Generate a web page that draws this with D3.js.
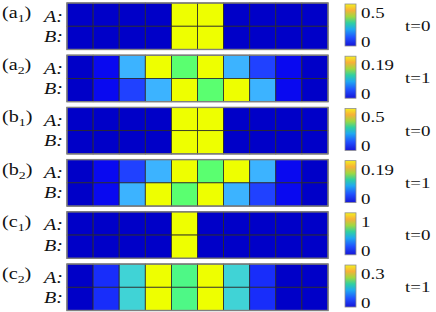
<!DOCTYPE html>
<html>
<head>
<meta charset="utf-8">
<script src="https://cdn.jsdelivr.net/npm/d3@7"></script>
<style>
  body { margin: 0; background: #fff; }
</style>
</head>
<body>
<svg></svg>
<script>
var width = 436;
var height = 312;

// data
var sites = [1, 2, 3, 4, 5, 6, 7, 8, 9, 10];
var rows = ["A", "B"];
var panelIds = ["a1", "a2", "b1", "b2", "c1", "c2"];
var panelLetters = ["a", "a", "b", "b", "c", "c"];
var panelSubs = ["1", "2", "1", "2", "1", "2"];
var times = ["t=0", "t=1", "t=0", "t=1", "t=0", "t=1"];
var maxTicks = ["0.5", "0.19", "0.5", "0.19", "1", "0.3"];
var maxValues = [0.5, 0.19, 0.5, 0.19, 1, 0.3];

var a1A = [0, 0, 0, 0, 0.5, 0.5, 0, 0, 0, 0];
var a1B = [0, 0, 0, 0, 0.5, 0.5, 0, 0, 0, 0];
var a2A = [0, 0.008, 0.085, 0.19, 0.135, 0.19, 0.085, 0.025, 0.008, 0];
var a2B = [0, 0.008, 0.025, 0.085, 0.19, 0.135, 0.19, 0.085, 0.008, 0];
var b1A = [0, 0, 0, 0, 0.5, 0.5, 0, 0, 0, 0];
var b1B = [0, 0, 0, 0, 0.5, 0.5, 0, 0, 0, 0];
var b2A = [0, 0.008, 0.025, 0.085, 0.19, 0.135, 0.19, 0.085, 0.008, 0];
var b2B = [0, 0.008, 0.085, 0.19, 0.135, 0.19, 0.085, 0.025, 0.008, 0];
var c1A = [0, 0, 0, 0, 1, 0, 0, 0, 0, 0];
var c1B = [0, 0, 0, 0, 1, 0, 0, 0, 0, 0];
var c2A = [0, 0.03, 0.16, 0.3, 0.2, 0.3, 0.16, 0.03, 0, 0];
var c2B = [0, 0.03, 0.16, 0.3, 0.2, 0.3, 0.16, 0.03, 0, 0];

var panelValues = [[a1A, a1B], [a2A, a2B], [b1A, b1B], [b2A, b2B], [c1A, c1B], [c2A, c2B]];

// colour map (normalised value -> colour)
var cellStops = [0, 0.04, 0.13, 0.45, 0.53, 0.69, 1];
var cellColors = ["#0000c8", "#0808f0", "#2040ff", "#3cb4ff", "#40d2d8", "#50ff78", "#eeff00"];
var barStops = [0, 0.2, 0.4, 0.55, 0.7, 0.85, 1];
var barColors = ["#1515d8", "#2050ff", "#20a8f0", "#30d0a0", "#a0d840", "#f8b038", "#f4f020"];

var color = d3.scaleLinear().domain(cellStops).range(cellColors).interpolate(d3.interpolateRgb).clamp(true);

var FONT = "'Liberation Serif', 'Times New Roman', 'DejaVu Serif', serif";

var svg = d3.select("svg").attr("width", width).attr("height", height);

var defs = svg.append("defs");
var grad = defs.append("linearGradient").attr("id", "cbar")
  .attr("x1", 0).attr("y1", 1).attr("x2", 0).attr("y2", 0);
grad.selectAll("stop").data(barStops).enter().append("stop")
  .attr("offset", function(d){ return d; })
  .attr("stop-color", function(d, i){ return barColors[i]; });

var py = d3.scaleBand().domain(panelIds).range([3, 310.5]).paddingInner(0.11);
var x = d3.scaleBand().domain(sites).range([67, 328]);
var ry = d3.scaleBand().domain(rows).range([0, py.bandwidth()]);

var sx = 1.26; // text in the figure is stretched horizontally

function stretched(g, px, pyy){
  return g.append("text")
    .attr("font-family", FONT)
    .attr("fill", "#111")
    .attr("transform", "translate(" + px + "," + pyy + ") scale(" + sx + ",1)");
}

panelIds.forEach(function(id, p){
  var top = py(id);
  var g = svg.append("g").attr("transform", "translate(0," + top + ")");

  rows.forEach(function(r, ri){
    g.selectAll("rect.c" + r).data(panelValues[p][ri]).enter().append("rect")
      .attr("x", function(d, i){ return x(sites[i]); })
      .attr("y", ry(r))
      .attr("width", x.bandwidth())
      .attr("height", ry.bandwidth())
      .attr("fill", function(d){ return color(d / maxValues[p]); })
      .attr("stroke", "#2a2a2a")
      .attr("stroke-width", 0.8);
  });

  g.append("rect")
    .attr("x", x.range()[0]).attr("y", 0)
    .attr("width", x.range()[1] - x.range()[0]).attr("height", py.bandwidth())
    .attr("fill", "none").attr("stroke", "#808080").attr("stroke-width", 1.4);

  // panel label
  var lab = stretched(g, 2, 15).attr("font-size", 16);
  lab.append("tspan").text("(" + panelLetters[p]);
  lab.append("tspan").attr("font-size", 11).attr("dy", 4).text(panelSubs[p]);
  lab.append("tspan").attr("dy", -4).text(")");

  // row labels
  rows.forEach(function(r){
    stretched(g, 63, ry(r) + ry.bandwidth() / 2 + (r === "A" ? 7 : 4))
      .attr("font-size", 16).attr("font-style", "italic")
      .attr("text-anchor", "end").text(r + ":");
  });

  // colour bar
  var cbTop = 1, cbH = 42;
  var cy = d3.scaleLinear().domain([0, maxValues[p]]).range([cbTop + cbH, cbTop]);
  g.append("rect")
    .attr("x", 345).attr("y", cy(maxValues[p]))
    .attr("width", 11).attr("height", cy(0) - cy(maxValues[p]))
    .attr("fill", "url(#cbar)").attr("stroke", "#909090").attr("stroke-width", 0.8);

  stretched(g, 361, cy(maxValues[p]) + 14).attr("font-size", 15).text(maxTicks[p]);
  stretched(g, 361, cy(0) + 1).attr("font-size", 15).text("0");

  // time label
  stretched(g, 405, py.bandwidth() / 2 + 5).attr("font-size", 15).text(times[p]);
});
</script>
</body>
</html>
